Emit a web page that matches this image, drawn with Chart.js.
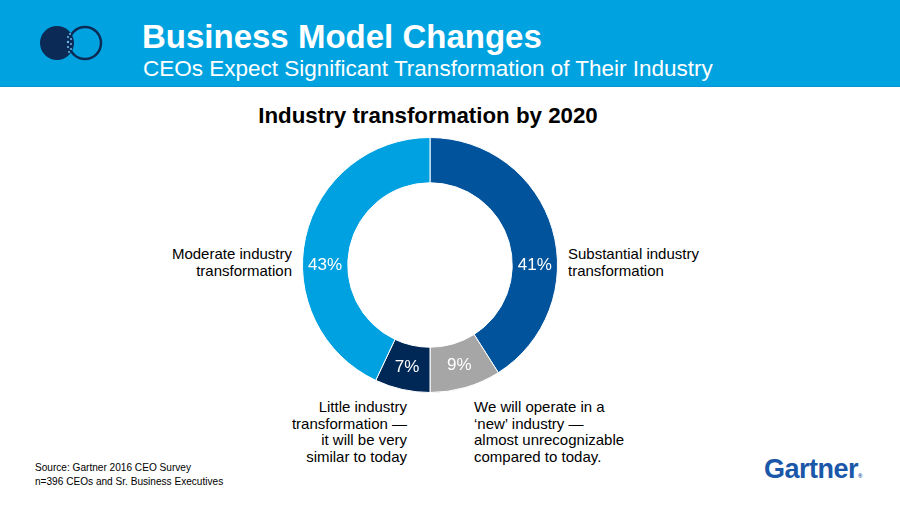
<!DOCTYPE html>
<html>
<head>
<meta charset="utf-8">
<script src="https://cdn.jsdelivr.net/npm/chart.js@4.4.0/dist/chart.umd.min.js"></script>
<style>
  html, body { margin:0; padding:0; background:#fff; }
  body { width:900px; height:506px; position:relative; overflow:hidden; font-family:"Liberation Sans", Arial, sans-serif; color:#000; }
  .band { position:absolute; left:0; top:0; width:900px; height:86px; background:#00A3E0; border-bottom:1px solid #0596cf; }
  .logo { position:absolute; left:38px; top:24px; }
  .h1 { position:absolute; left:142px; top:18px; font-size:33px; font-weight:bold; color:#fff; }
  .h2 { position:absolute; left:143px; top:56px; font-size:22.5px; color:#fff; }
  .ctitle { position:absolute; left:0; width:856px; top:103px; text-align:center; font-size:22.3px; font-weight:bold; }
  #wrap { position:absolute; left:302px; top:137px; width:256px; height:256px; }
  .lbl { position:absolute; font-size:15px; line-height:16.5px; }
  .r { text-align:right; }
  .src { position:absolute; left:35px; top:461px; font-size:10.1px; line-height:13.5px; }
  .gartner { position:absolute; left:764px; top:454px; font-size:27px; font-weight:bold; color:#1a57a8; letter-spacing:-0.5px; }
  .gartner sup { font-size:6px; vertical-align:0; }
</style>
</head>
<body>
<div class="band"></div>
<svg class="logo" width="70" height="40" viewBox="0 0 70 40">
  <circle cx="19" cy="19" r="17" fill="#0b2a55"/>
  <circle cx="47" cy="19" r="16" fill="none" stroke="#0b2a55" stroke-width="2.5"/>
  <g fill="#6fb7e6">
    <circle cx="32" cy="10" r="1"/><circle cx="30" cy="13" r="1.1"/><circle cx="33" cy="15" r="1"/>
    <circle cx="30" cy="18" r="1.2"/><circle cx="33" cy="20" r="1"/><circle cx="30" cy="23" r="1.1"/>
    <circle cx="33" cy="25" r="1"/><circle cx="31" cy="28" r="1"/>
  </g>
</svg>
<div class="h1">Business Model Changes</div>
<div class="h2">CEOs Expect Significant Transformation of Their Industry</div>
<div class="ctitle">Industry transformation by 2020</div>
<div id="wrap"><canvas id="c"></canvas></div>
<div class="lbl r" style="right:608px; top:246px;">Moderate industry<br>transformation</div>
<div class="lbl" style="left:568px; top:246px;">Substantial industry<br>transformation</div>
<div class="lbl r" style="right:493px; top:399px;">Little industry<br>transformation —<br>it will be very<br>similar to today</div>
<div class="lbl" style="left:474px; top:399px;">We will operate in a<br>‘new’ industry —<br>almost unrecognizable<br>compared to today.</div>
<div class="src">Source: Gartner 2016 CEO Survey<br>n=396 CEOs and Sr. Business Executives</div>
<div class="gartner">Gartner<sup>®</sup></div>
<script>
const categories = ['Substantial industry transformation', 'We will operate in a new industry', 'Little industry transformation', 'Moderate industry transformation'];
const shares = [41, 9, 7, 43];
const sliceColors = ['#01539C', '#A6A6A6', '#002856', '#00A1E0'];

// value labels: big slices sit on the horizontal, small ones at their middle
const innerLabels = {
  id: 'innerLabels',
  afterDatasetsDraw(chart) {
    const ctx = chart.ctx;
    const arcs = chart.getDatasetMeta(0).data;
    ctx.save();
    ctx.fillStyle = '#fff';
    ctx.font = '17px "Liberation Sans", Arial, sans-serif';
    ctx.textAlign = 'center';
    ctx.textBaseline = 'middle';
    arcs.forEach((arc, i) => {
      const p = arc.getProps(['x', 'y', 'startAngle', 'endAngle', 'innerRadius', 'outerRadius']);
      let a = (p.startAngle + p.endAngle) / 2;
      if (p.startAngle <= 0 && p.endAngle >= 0) a = 0;
      else if (p.startAngle <= Math.PI && p.endAngle >= Math.PI) a = Math.PI;
      const r = (p.innerRadius + p.outerRadius) / 2;
      ctx.fillText(shares[i] + '%', p.x + Math.cos(a) * r, p.y + Math.sin(a) * r);
    });
    ctx.restore();
  }
};

new Chart(document.getElementById('c'), {
  type: 'doughnut',
  data: {
    labels: categories,
    datasets: [{ data: shares, backgroundColor: sliceColors, borderColor: '#fff', borderWidth: 1, hoverOffset: 0 }]
  },
  options: {
    responsive: true,
    maintainAspectRatio: false,
    animation: false,
    cutout: '64.5%',
    layout: { padding: 0 },
    plugins: { legend: { display: false }, tooltip: { enabled: false } }
  },
  plugins: [innerLabels]
});
</script>
</body>
</html>
